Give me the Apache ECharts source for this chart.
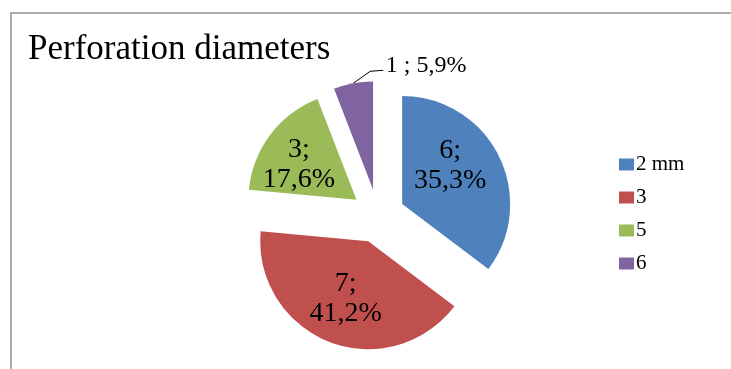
<!DOCTYPE html>
<html>
<head>
<meta charset="utf-8">
<script src="https://cdn.jsdelivr.net/npm/echarts@6/dist/echarts.min.js"></script>
<style>
html,body{margin:0;padding:0;background:#fff;}
#main{width:731px;height:369px;}
</style>
</head>
<body>
<div id="main"></div>
<script>
var titleText = 'Perforation diameters';
var categories = ['2 mm', '3', '5', '6'];
var values = [6, 7, 3, 1];
var colors = ['#4F81BD', '#C0504D', '#9BBB59', '#8064A2'];

var total = values.reduce(function (a, b) { return a + b; }, 0);
function pct(v) { return (v / total * 100).toFixed(1).replace('.', ','); }

var serif = '"Liberation Serif", "Times New Roman", serif';

var data = categories.map(function (c, i) {
  var item = { name: c, value: values[i], selected: true, itemStyle: { color: colors[i] } };
  if (i === 3) {
    item.label = {
      position: 'outside', fontSize: 24, lineHeight: 20, padding: [0, 0, 0, 49],
      formatter: function (p) { return p.value + ' ; ' + pct(p.value) + '%\n '; }
    };
    item.labelLine = { show: true, length: 8, length2: 10, lineStyle: { color: '#000', width: 1 } };
  } else {
    item.label = { position: 'inside' };
    item.labelLine = { show: false };
  }
  return item;
});

var chart = echarts.init(document.getElementById('main'), null, { renderer: 'canvas' });
chart.setOption({
  animation: false,
  backgroundColor: '#fff',
  title: {
    text: titleText,
    left: 23,
    top: 27,
    textStyle: { fontFamily: serif, fontSize: 35, fontWeight: 'normal', color: '#000' }
  },
  legend: {
    orient: 'vertical',
    left: 614,
    top: 149,
    itemWidth: 15,
    itemHeight: 12,
    itemGap: 12,
    icon: 'rect',
    selectedMode: false,
    textStyle: { fontFamily: serif, fontSize: 21, color: '#000', padding: [0, 0, 0, -3] },
    data: categories
  },
  graphic: [{
    type: 'rect',
    shape: { x: 11, y: 13, width: 800, height: 400 },
    style: { fill: 'none', stroke: '#ababab', lineWidth: 2 },
    silent: true
  }],
  series: [{
    type: 'pie',
    center: [378, 216],
    radius: 108,
    startAngle: 90,
    clockwise: true,
    selectedMode: 'multiple',
    selectedOffset: 27,
    emphasis: { disabled: true },
    label: {
      show: true,
      position: 'outside',
      fontFamily: serif,
      fontSize: 28,
      lineHeight: 30,
      color: '#000',
      formatter: function (p) { return p.value + ';\n' + pct(p.value) + '%'; }
    },
    labelLayout: function (p) {
      if (p.dataIndex === 0) return { dx: -3, dy: -13 };
      if (p.dataIndex === 1) return { dx: -2, dy: 4 };
      if (p.dataIndex === 2) return { dx: -12, dy: -1 };
      if (p.dataIndex === 3) {
        var a = p.labelLinePoints ? p.labelLinePoints[0] : null;
        if (!a) return { align: 'left' };
        return {
          align: 'left',
          labelLinePoints: [[a[0], a[1]], [a[0] + 17, a[1] - 12], [a[0] + 30, a[1] - 13]]
        };
      }
      return {};
    },
    data: data
  }]
});
</script>
</body>
</html>
